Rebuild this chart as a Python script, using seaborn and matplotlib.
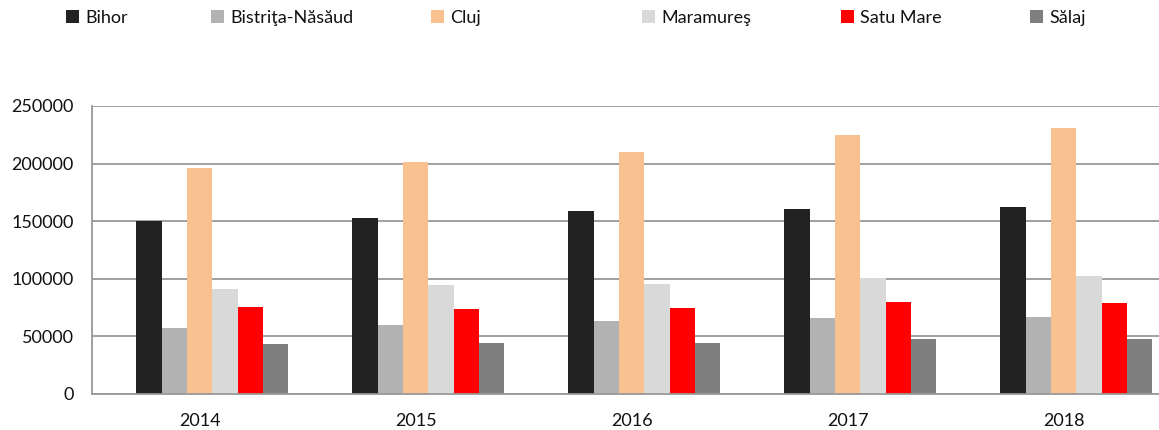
import pandas as pd
import matplotlib.pyplot as plt
import matplotlib.patches as mpatches
import seaborn as sns

years = ["2014", "2015", "2016", "2017", "2018"]
counties = ["Bihor", "Bistriţa-Năsăud", "Cluj", "Maramureş", "Satu Mare", "Sălaj"]

bihor = [150500, 153000, 159000, 160500, 162500]
bistrita = [57500, 60000, 63500, 65800, 66800]
cluj = [196000, 201800, 210500, 225000, 231000]
maramures = [91000, 94500, 95500, 100800, 102000]
satu_mare = [75200, 74000, 74500, 79700, 79200]
salaj = [43500, 44000, 44500, 48000, 48000]

colors = ["#222222", "#b2b2b2", "#f9c190", "#d9d9d9", "#ff0000", "#7f7f7f"]
legend_x = [69, 214, 434, 645, 844, 1033]

series = [bihor, bistrita, cluj, maramures, satu_mare, salaj]
rows = []
for name, vals in zip(counties, series):
    for y, v in zip(years, vals):
        rows.append({"year": y, "county": name, "value": v})
# Excel chart keeps an empty first slot in every group
for y in years:
    rows.append({"year": y, "county": " ", "value": 0})
df = pd.DataFrame(rows)

hue_order = [" "] + counties
palette = dict(zip(counties, colors))
palette[" "] = "#ffffff"

sns.set_style("white")
plt.rcParams["font.family"] = ["Lato", "DejaVu Sans"]

fig = plt.figure(figsize=(11.59, 4.30), dpi=100)
ax = fig.add_axes([91.7 / 1159, 36 / 430, 1080 / 1159, 288 / 430])

sns.barplot(data=df, x="year", y="value", hue="county", hue_order=hue_order,
            palette=palette, width=0.82, errorbar=None, legend=False,
            linewidth=0, saturation=1, ax=ax)

ax.set_ylim(0, 250000)
ax.set_xlim(-0.5, 4.5)
ax.set_yticks(range(0, 250001, 50000))
ax.yaxis.grid(True, color="#999999", linewidth=1.3)
ax.set_axisbelow(True)
ax.set_xlabel("")
ax.set_ylabel("")

for s in ["top", "right"]:
    ax.spines[s].set_visible(False)
for s in ["left", "bottom"]:
    ax.spines[s].set_color("#999999")
    ax.spines[s].set_linewidth(1.3)

ax.tick_params(axis="y", length=5, color="#999999", width=1.3, labelsize=13,
               pad=8, labelcolor="#111111")
ax.tick_params(axis="x", length=0, labelsize=13, pad=14, labelcolor="#111111")
ax.set_xticks(range(len(years)))
ax.set_xticklabels(years)
ax.set_xticks([i + 0.5 for i in range(len(years) - 1)] + [-0.5], minor=True)
ax.tick_params(axis="x", which="minor", length=6, color="#999999", width=1.3)

for name, col, x in zip(counties, colors, legend_x):
    h = mpatches.Patch(facecolor=col, edgecolor="none")
    fig.legend([h], [name], loc="center left", frameon=False,
               bbox_to_anchor=((x - 10) / 1159, 1 - 18 / 430), fontsize=13,
               handlelength=0.7, handleheight=0.7, handletextpad=0.35,
               borderaxespad=0, labelcolor="#111111")

fig.savefig("out.png", dpi=100)
